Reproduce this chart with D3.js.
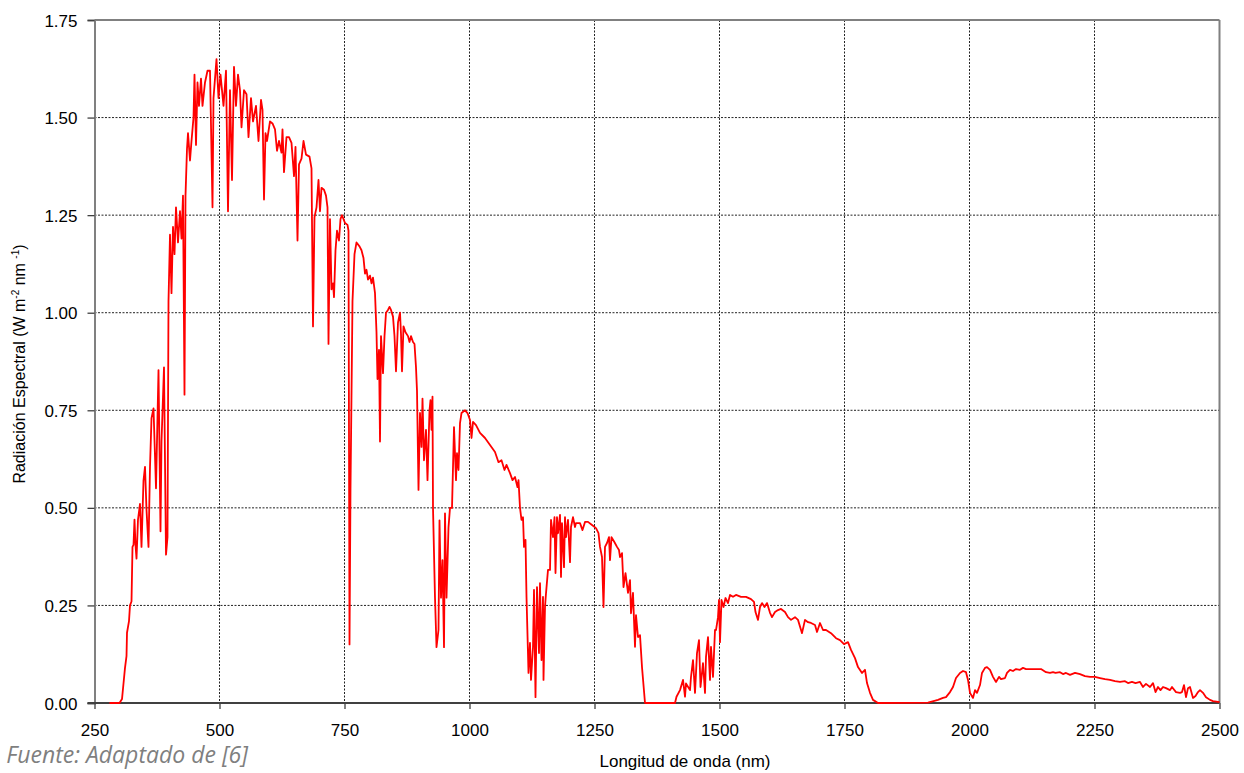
<!DOCTYPE html>
<html>
<head>
<meta charset="utf-8">
<script src="https://cdn.jsdelivr.net/npm/d3@7"></script>
<style>
  body { margin: 0; background: #fff; }
  svg { display: block; }
  .tick-label { font-family: "Liberation Sans", Arial, sans-serif; font-size: 17px; fill: #000; }
  .axis-title { font-family: "Liberation Sans", Arial, sans-serif; font-size: 16px; fill: #000; }
</style>
</head>
<body>
<svg width="1244" height="773"></svg>
<script>
// axis ticks
var xTicks = [250, 500, 750, 1000, 1250, 1500, 1750, 2000, 2250, 2500];
var yTicks = [0, 0.25, 0.5, 0.75, 1.0, 1.25, 1.5, 1.75];

// spectrum: [wavelength nm, W m-2 nm-1]
var uvVisible = [
  [280,0],[300,0],[305,0.01],[308,0.05],[311,0.09],[314,0.12],[315,0.18],[319,0.21],[321,0.25],[324,0.26],
  [326,0.40],[328,0.405],[330,0.47],[332,0.405],[334,0.37],[337,0.47],[341,0.51],[344,0.40],[348,0.57],
  [351,0.605],[354,0.495],[358,0.40],[361,0.605],[364,0.73],[368,0.755],[373,0.55],[378,0.853],[382,0.44],
  [384,0.67],[389,0.86],[393,0.38],[396,0.425],[398,1.03],[401,1.20],[404,1.05],[407,1.22],[410,1.15],
  [413,1.27],[417,1.18],[421,1.26],[424,1.19],[427,1.30],[430,0.79],[432,1.30],[435,1.42],[437,1.46],
  [441,1.39],[444,1.44],[448,1.50],[450,1.61],[453,1.43],[456,1.59],[459,1.53],[463,1.60],[466,1.53],
  [471,1.59],[476,1.62],[481,1.62],[486,1.27],[488,1.55],[494,1.65],[498,1.55],[502,1.61],[508,1.53],
  [513,1.62],[517,1.26],[521,1.57],[525,1.34],[529,1.63],[533,1.53],[537,1.61],[541,1.57],[544,1.475],
  [549,1.57],[554,1.56],[558,1.45],[563,1.55],[567,1.49],[573,1.53],[578,1.44],[583,1.545],[586,1.52],
  [589,1.29],[592,1.46],[595,1.44],[601,1.49],[606,1.485],[611,1.47],[615,1.415],[619,1.44],[624,1.41],
  [626,1.47],[629,1.36],[634,1.45],[639,1.45],[644,1.435],[649,1.35],[652,1.425],[656,1.185],[659,1.38],
  [664,1.395],[668,1.44],[673,1.405],[680,1.40],[684,1.37],[687,0.965],[690,1.245],[694,1.27],[698,1.34],
  [701,1.26],[704,1.32],[709,1.315],[713,1.30],[716,1.27],[718,0.92],[721,1.24],[724,1.06],[727,1.075],
  [729,1.04],[732,1.16],[735,1.21],[739,1.185],[742,1.24],[745,1.25],[751,1.23],[756,1.225],[758,1.21]
];
var nearIr1 = [
  [760,0.15],[762,0.55],[766,1.03],[770,1.15],[774,1.18],[780,1.17],[784,1.16],[788,1.14],[791,1.10],
  [794,1.11],[797,1.085],[801,1.095],[804,1.075],[807,1.09],[811,1.05],[814,0.95],[816,0.83],[819,0.905],
  [821,0.67],[823,0.94],[827,0.845],[830,0.94],[833,1.00],[837,1.007],[840,1.015],[843,1.007],[847,0.99],
  [850,0.94],[853,0.85],[857,0.975],[861,1.00],[863,0.945],[865,0.85],[868,0.965],[872,0.95],[877,0.94],
  [880,0.925],[883,0.94],[887,0.925],[890,0.92],[893,0.86],[895,0.80],[898,0.546],[901,0.743],[904,0.656],
  [906,0.78],[909,0.622],[913,0.70],[916,0.571],[920,0.75],[922,0.776],[924,0.70],[926,0.785],[927,0.50],
  [931,0.27],[934,0.143],[938,0.187],[940,0.468],[943,0.27],[946,0.366],[949,0.143],[951,0.486],[954,0.27],
  [958,0.45],[961,0.50],[965,0.50],[969,0.707],[973,0.571],[975,0.64],[978,0.597],[981,0.717],[984,0.743],
  [991,0.75],[996,0.743],[1001,0.725],[1004,0.679],[1007,0.72],[1013,0.712],[1021,0.692],[1031,0.679],
  [1041,0.661],[1051,0.643],[1058,0.617],[1064,0.622],[1070,0.597],[1074,0.61],[1081,0.589],[1086,0.571],
  [1091,0.579],[1096,0.553],[1098,0.571],[1101,0.50],[1104,0.469],[1107,0.476],[1109,0.40],[1112,0.418]
];
var nearIr2 = [
  [1114,0.272],[1118,0.077],[1121,0.154],[1123,0.059],[1127,0.144],[1129,0.29],[1132,0.015],[1135,0.297],
  [1139,0.128],[1141,0.307],[1144,0.11],[1147,0.272],[1148,0.059],[1151,0.246],[1153,0.281],[1157,0.341],
  [1161,0.341],[1163,0.469],[1167,0.425],[1170,0.476],[1172,0.333],[1175,0.476],[1177,0.435],[1181,0.482],
  [1183,0.323],[1185,0.461],[1189,0.348],[1191,0.476],[1193,0.425],[1197,0.469],[1201,0.361],[1203,0.451],
  [1207,0.476],[1211,0.451],[1213,0.461],[1221,0.461],[1226,0.443],[1231,0.464],[1237,0.464],[1245,0.456],
  [1253,0.448],[1258,0.435],[1261,0.40],[1265,0.374],[1268,0.246],[1271,0.40],[1275,0.41],[1279,0.425],
  [1281,0.366],[1284,0.425],[1290,0.412],[1295,0.40],[1299,0.392],[1301,0.374],[1305,0.384],[1308,0.297],
  [1312,0.333],[1317,0.282],[1321,0.315],[1323,0.23],[1327,0.282],[1331,0.144],[1333,0.225],[1337,0.169],
  [1341,0.174],[1345,0.092],[1351,0],[1411,0]
];
var nearIr3 = [
  [1414,0.016],[1421,0.033],[1427,0.059],[1431,0.016],[1433,0.05],[1441,0.033],[1443,0.067],[1447,0.11],
  [1451,0.026],[1455,0.128],[1459,0.161],[1462,0.041],[1467,0.102],[1471,0.026],[1473,0.118],[1477,0.169],
  [1481,0.059],[1483,0.144],[1487,0.067],[1491,0.187],[1493,0.187],[1497,0.22],[1499,0.264],[1501,0.156],
  [1504,0.264],[1508,0.246],[1512,0.269],[1517,0.256],[1521,0.277],[1527,0.272],[1533,0.277],[1543,0.272],
  [1553,0.272],[1563,0.266],[1569,0.259],[1572,0.233],[1577,0.213],[1581,0.246],[1585,0.256],[1590,0.246],
  [1595,0.256],[1601,0.231],[1605,0.22],[1611,0.233],[1617,0.238],[1623,0.241],[1631,0.233],[1637,0.22],
  [1643,0.213],[1651,0.22],[1657,0.213],[1665,0.179],[1671,0.213],[1677,0.207],[1683,0.205],[1691,0.20],
  [1695,0.182],[1701,0.205],[1707,0.187],[1713,0.187],[1723,0.179],[1733,0.166],[1741,0.161],[1749,0.151],
  [1757,0.156],[1763,0.136],[1771,0.115],[1777,0.092],[1785,0.077],[1791,0.085],[1795,0.051],[1801,0.026],
  [1807,0.008],[1817,0]
];
var farIr = [
  [1917,0.001],[1937,0.008],[1947,0.013],[1953,0.015],[1961,0.028],[1967,0.041],[1973,0.064],[1981,0.077],
  [1987,0.082],[1993,0.079],[1997,0.059],[2001,0.026],[2007,0.013],[2011,0.033],[2015,0.026],[2021,0.046],
  [2025,0.077],[2031,0.09],[2035,0.092],[2041,0.085],[2047,0.067],[2053,0.054],[2059,0.067],[2063,0.061],
  [2071,0.064],[2075,0.077],[2081,0.085],[2087,0.082],[2093,0.087],[2101,0.085],[2107,0.09],[2113,0.087],
  [2123,0.087],[2133,0.087],[2143,0.087],[2153,0.079],[2161,0.077],[2167,0.079],[2172,0.077],[2181,0.079],
  [2187,0.074],[2193,0.077],[2201,0.072],[2211,0.077],[2221,0.074],[2231,0.069],[2241,0.067],[2251,0.067],
  [2261,0.064],[2271,0.061],[2281,0.059],[2291,0.056],[2301,0.054],[2311,0.056],[2317,0.051],[2325,0.054],
  [2332,0.051],[2341,0.054],[2347,0.041],[2353,0.049],[2361,0.041],[2367,0.051],[2372,0.028],[2377,0.041],
  [2382,0.033],[2387,0.041],[2393,0.038],[2401,0.033],[2405,0.041],[2413,0.028],[2421,0.026],[2425,0.028],
  [2429,0.046],[2433,0.015],[2437,0.038],[2441,0.041],[2447,0.013],[2452,0.018],[2457,0.028],[2461,0.033],
  [2467,0.026],[2473,0.015],[2481,0.008],[2487,0.005],[2497,0.003],[2500,0.002]
];

var spectrum = uvVisible.concat(nearIr1, nearIr2, nearIr3, farIr);

var svg = d3.select('svg');
var plot = {l: 94.5, r: 1219.5, t: 20, b: 703};

var x = d3.scaleLinear().domain([250, 2500]).range([plot.l, plot.r]);
var y = d3.scaleLinear().domain([0, 1.75]).range([plot.b, plot.t]);

// dashed grid
svg.append('g')
    .selectAll('line')
    .data(xTicks.slice(1, -1))
    .enter().append('line')
    .attr('x1', function(d) { return x(d); })
    .attr('x2', function(d) { return x(d); })
    .attr('y1', plot.t)
    .attr('y2', plot.b)
    .attr('stroke', '#222')
    .attr('stroke-width', 1)
    .attr('stroke-dasharray', '2,1.5');

svg.append('g')
    .selectAll('line')
    .data(yTicks.slice(1, -1))
    .enter().append('line')
    .attr('x1', plot.l)
    .attr('x2', plot.r)
    .attr('y1', function(d) { return y(d); })
    .attr('y2', function(d) { return y(d); })
    .attr('stroke', '#222')
    .attr('stroke-width', 1)
    .attr('stroke-dasharray', '2,1.5');

// frame: top and right
svg.append('line')
    .attr('x1', plot.l).attr('x2', plot.r)
    .attr('y1', plot.t).attr('y2', plot.t)
    .attr('stroke', '#808080').attr('stroke-width', 2);
svg.append('line')
    .attr('x1', plot.r).attr('x2', plot.r)
    .attr('y1', plot.t).attr('y2', plot.b)
    .attr('stroke', '#808080').attr('stroke-width', 2);

// left axis
var yAxis = d3.axisLeft(y)
    .tickValues(yTicks)
    .tickSize(7)
    .tickPadding(10)
    .tickFormat(d3.format('.2f'));
var yG = svg.append('g')
    .attr('transform', 'translate(' + plot.l + ',0)')
    .call(yAxis);
yG.select('.domain').attr('stroke', '#808080').attr('stroke-width', 2);
yG.selectAll('.tick line').attr('stroke', '#404040').attr('stroke-width', 1.3);
yG.selectAll('.tick text')
    .attr('class', 'tick-label')
    .attr('font-family', null).attr('font-size', null)
    .attr('dy', '0.36em');

// bottom axis
var xAxis = d3.axisBottom(x)
    .tickValues(xTicks)
    .tickSize(6)
    .tickPadding(15)
    .tickFormat(d3.format('d'));
var xG = svg.append('g')
    .attr('transform', 'translate(0,' + plot.b + ')')
    .call(xAxis);
xG.select('.domain').remove();
xG.append('line')
    .attr('x1', plot.l - 7).attr('x2', plot.r)
    .attr('stroke', '#404040').attr('stroke-width', 2);
xG.selectAll('.tick line').attr('stroke', '#404040').attr('stroke-width', 1.3);
xG.selectAll('.tick text')
    .attr('class', 'tick-label')
    .attr('font-family', null).attr('font-size', null);

// the spectrum, drawn over the axes so the zero stretches stay visible
var line = d3.line()
    .x(function(d) { return x(d[0]); })
    .y(function(d) { return y(d[1]); });

svg.append('path')
    .datum(spectrum)
    .attr('d', line)
    .attr('fill', 'none')
    .attr('stroke', '#ff0000')
    .attr('stroke-width', 1.8)
    .attr('stroke-linejoin', 'round');

// axis titles
var yTitle = svg.append('text')
    .attr('class', 'axis-title')
    .attr('transform', 'translate(25,' + 364 + ') rotate(-90)')
    .attr('text-anchor', 'middle');
yTitle.append('tspan').text('Radiación Espectral (W m');
yTitle.append('tspan').attr('dy', -6).attr('font-size', 10).text('-2');
yTitle.append('tspan').attr('dy', 6).text(' nm ');
yTitle.append('tspan').attr('dy', -6).attr('font-size', 10).text('-1');
yTitle.append('tspan').attr('dy', 6).text(')');

svg.append('text')
    .attr('class', 'axis-title')
    .attr('x', 685)
    .attr('y', 767)
    .attr('text-anchor', 'middle')
    .style('font-size', '17px')
    .text('Longitud de onda (nm)');

// source note
svg.append('text')
    .attr('x', 248)
    .attr('y', 763)
    .attr('text-anchor', 'end')
    .style('font-family', '"Open Sans", sans-serif')
    .style('font-style', 'italic')
    .style('font-size', '23px')
    .style('fill', '#7f7f7f')
    .text('Fuente: Adaptado de [6]');
</script>
</body>
</html>
